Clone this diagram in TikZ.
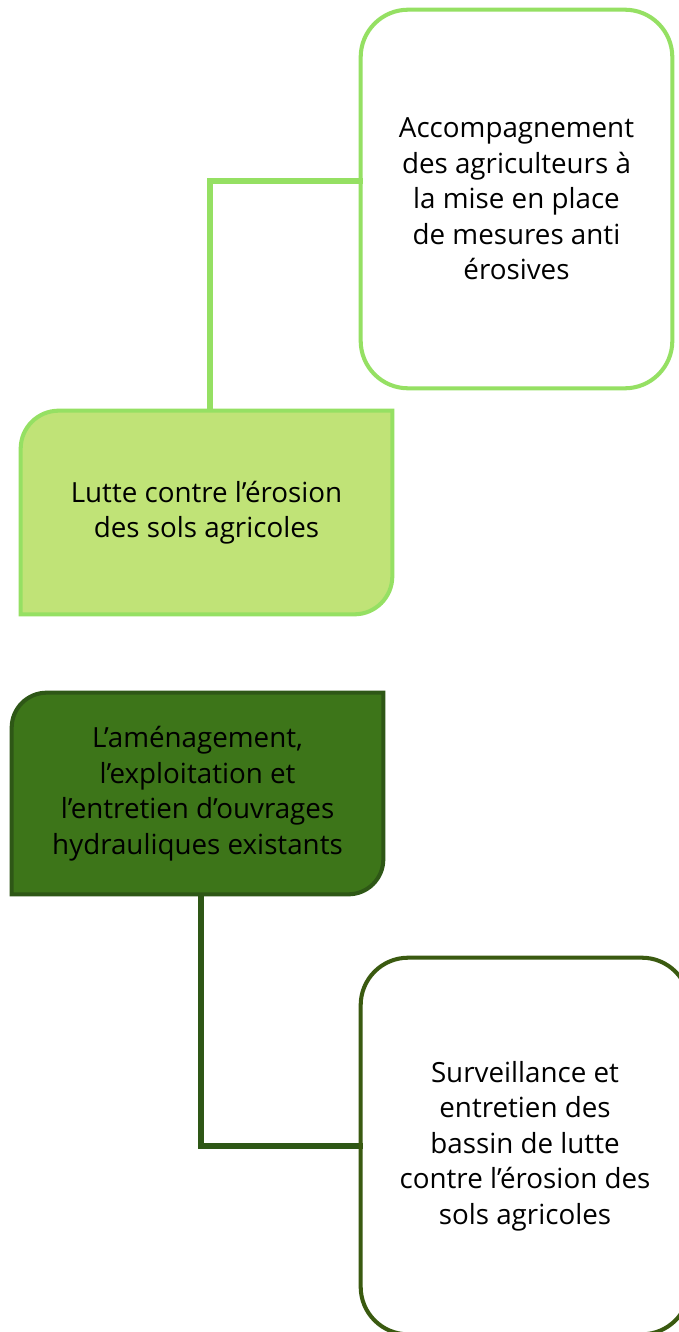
\documentclass[tikz,border=0pt]{standalone}
\usepackage{fontspec}
\setmainfont{Open Sans}
\usetikzlibrary{positioning}
\definecolor{vertclair}{HTML}{95E063}
\definecolor{vertfond}{HTML}{C0E377}
\definecolor{vertfonce}{HTML}{3D7519}
\definecolor{vertbord}{HTML}{2E5716}
\definecolor{vertolive}{HTML}{3A5A10}
\tikzset{
  boite/.style={minimum width=#1, align=center, inner sep=0pt,
    font=\fontsize{15.8pt}{20.2pt}\selectfont},
  lien/.style={line width=3pt, line cap=rect}
}
\begin{document}
\begin{tikzpicture}[x=0.02cm, y=-0.02cm]
  \clip (0,0) rectangle (679,1332);
  \fill[white] (0,0) rectangle (679,1332);

  % branche du haut
  \node[boite=6.22cm, minimum height=7.56cm] (accomp) at (516.5,199)
    {Accompagnement\\des agriculteurs à\\la mise en place\\de mesures anti\\érosives};
  \node[boite=7.42cm, minimum height=4.06cm] (lutte) at (206.5,512.5) {};
  \draw[lien, vertclair] ([xshift=0.07cm]lutte.north) |- ([yshift=0.36cm]accomp.west);
  \draw[vertclair, line width=2.3pt, rounded corners=0.95cm]
    (accomp.north west) rectangle (accomp.south east);
  \draw[vertclair, line width=2.3pt, fill=vertfond]
    (lutte.west) [rounded corners=0.76cm] -- (lutte.north west) -- (lutte.north)
    [sharp corners] -- (lutte.north east) -- (lutte.east)
    [rounded corners=0.76cm] -- (lutte.south east) -- (lutte.south)
    [sharp corners] -- (lutte.south west) -- cycle;
  \node[boite=7.42cm] at (lutte) {Lutte contre l’érosion\\des sols agricoles};

  % branche du bas
  \node[boite=7.42cm, minimum height=4.02cm] (amenag) at (197.5,793.5) {};
  \node[boite=6.56cm, minimum height=7.52cm] (surv) at (525,1146)
    {Surveillance et\\entretien des\\bassin de lutte\\contre l’érosion des\\sols agricoles};
  \draw[lien, vertbord] ([xshift=0.07cm]amenag.south) |- (surv.west);
  \draw[vertolive, line width=2.3pt, rounded corners=0.95cm]
    (surv.north west) rectangle (surv.south east);
  \draw[vertbord, line width=2.3pt, fill=vertfonce]
    (amenag.west) [rounded corners=0.7cm] -- (amenag.north west) -- (amenag.north)
    [sharp corners] -- (amenag.north east) -- (amenag.east)
    [rounded corners=0.7cm] -- (amenag.south east) -- (amenag.south)
    [sharp corners] -- (amenag.south west) -- cycle;
  \node[boite=7.42cm] at (amenag)
    {L’aménagement,\\l’exploitation et\\l’entretien d’ouvrages\\hydrauliques existants};
\end{tikzpicture}
\end{document}
